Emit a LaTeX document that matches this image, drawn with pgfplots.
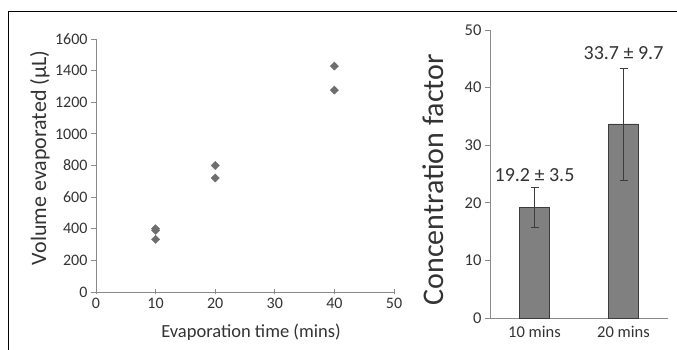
\documentclass[border=0pt]{standalone}
\usepackage{pgfplots}
\pgfplotsset{compat=1.18}
\usepackage{fontspec}
\setmainfont{Carlito}
\definecolor{axgray}{HTML}{8A8A8A}
\definecolor{mkgray}{HTML}{6E6E6E}
\definecolor{barfill}{HTML}{808080}
\definecolor{baredge}{HTML}{3C3C3C}
\definecolor{txt}{HTML}{333333}
\begin{document}
\begin{tikzpicture}
\useasboundingbox (0,0) rectangle (677pt,350pt);
\draw[black, line width=0.9pt] (8pt,0pt) -- (8pt,339pt) -- (677pt,339pt);
\begin{axis}[
  at={(96pt,58pt)}, anchor=south west,
  scale only axis, width=298pt, height=253pt,
  xmin=0, xmax=50, ymin=0, ymax=1600,
  xtick={0,10,...,50}, ytick={0,200,...,1600},
  axis x line=bottom, axis y line=left,
  axis line style={axgray, line width=0.8pt, -},
  tick style={axgray, line width=0.8pt},
  xtick align=center, ytick align=outside,
  major tick length=5pt,
  tick label style={font=\fontsize{16}{18}\selectfont, text=txt},
  /pgf/number format/assume math mode=true,
  scaled ticks=false,
  xticklabel style={/pgf/number format/1000 sep={}},
  yticklabel style={/pgf/number format/1000 sep={}},
  xlabel={Evaporation time (mins)},
  ylabel={Volume evaporated (μL)},
  xlabel style={font=\fontsize{18.5}{21}\selectfont, text=txt, at={(axis description cs:0.52,-0.158)}, anchor=center},
  ylabel style={font=\fontsize{22}{25}\selectfont, text=txt, at={(axis description cs:-0.188,0.53)}, anchor=center},
  clip=false,
]
\addplot[only marks, mark=square*, mark size=2.9pt, mark options={rotate=45, fill=mkgray, draw=mkgray}]
  coordinates {(10,400) (10,390) (10,333) (20,800) (20,721) (40,1429) (40,1277)};
\end{axis}
\begin{axis}[
  at={(490pt,32pt)}, anchor=south west,
  scale only axis, width=178pt, height=288pt,
  xmin=-0.5, xmax=1.5, ymin=0, ymax=50,
  xtick={0,1}, xticklabels={10 mins,20 mins},
  extra x ticks={0.5,1.5}, extra x tick labels={},
  extra x tick style={major tick length=5pt, tick style={axgray, line width=0.8pt}},
  ytick={0,10,...,50},
  axis x line=bottom, axis y line=left,
  axis line style={axgray, line width=0.8pt, -},
  tick style={axgray, line width=0.8pt},
  x tick style={draw=none},
  xtick align=outside, ytick align=outside,
  major tick length=5pt,
  tick label style={font=\fontsize{16.5}{19}\selectfont, text=txt},
  /pgf/number format/assume math mode=true,
  ylabel={Concentration factor},
  ylabel style={font=\fontsize{30}{34}\selectfont, text=txt, at={(axis description cs:-0.32,0.48)}, anchor=center},
  clip=false,
]
\addplot[ybar, bar width=30pt, fill=barfill, draw=baredge, line width=0.6pt,
  error bars/.cd, y dir=both, y explicit,
  error bar style={draw=baredge, line width=0.6pt}, error mark options={rotate=90, mark size=4pt, draw=baredge}]
  coordinates {(0,19.2) +- (0,3.5) (1,33.7) +- (0,9.7)};
\node[font=\fontsize{20}{23}\selectfont, text=txt] at (axis cs:0,24.8) {19.2 ± 3.5};
\node[font=\fontsize{20}{23}\selectfont, text=txt] at (axis cs:1,46.0) {33.7 ± 9.7};
\end{axis}
\end{tikzpicture}
\end{document}
